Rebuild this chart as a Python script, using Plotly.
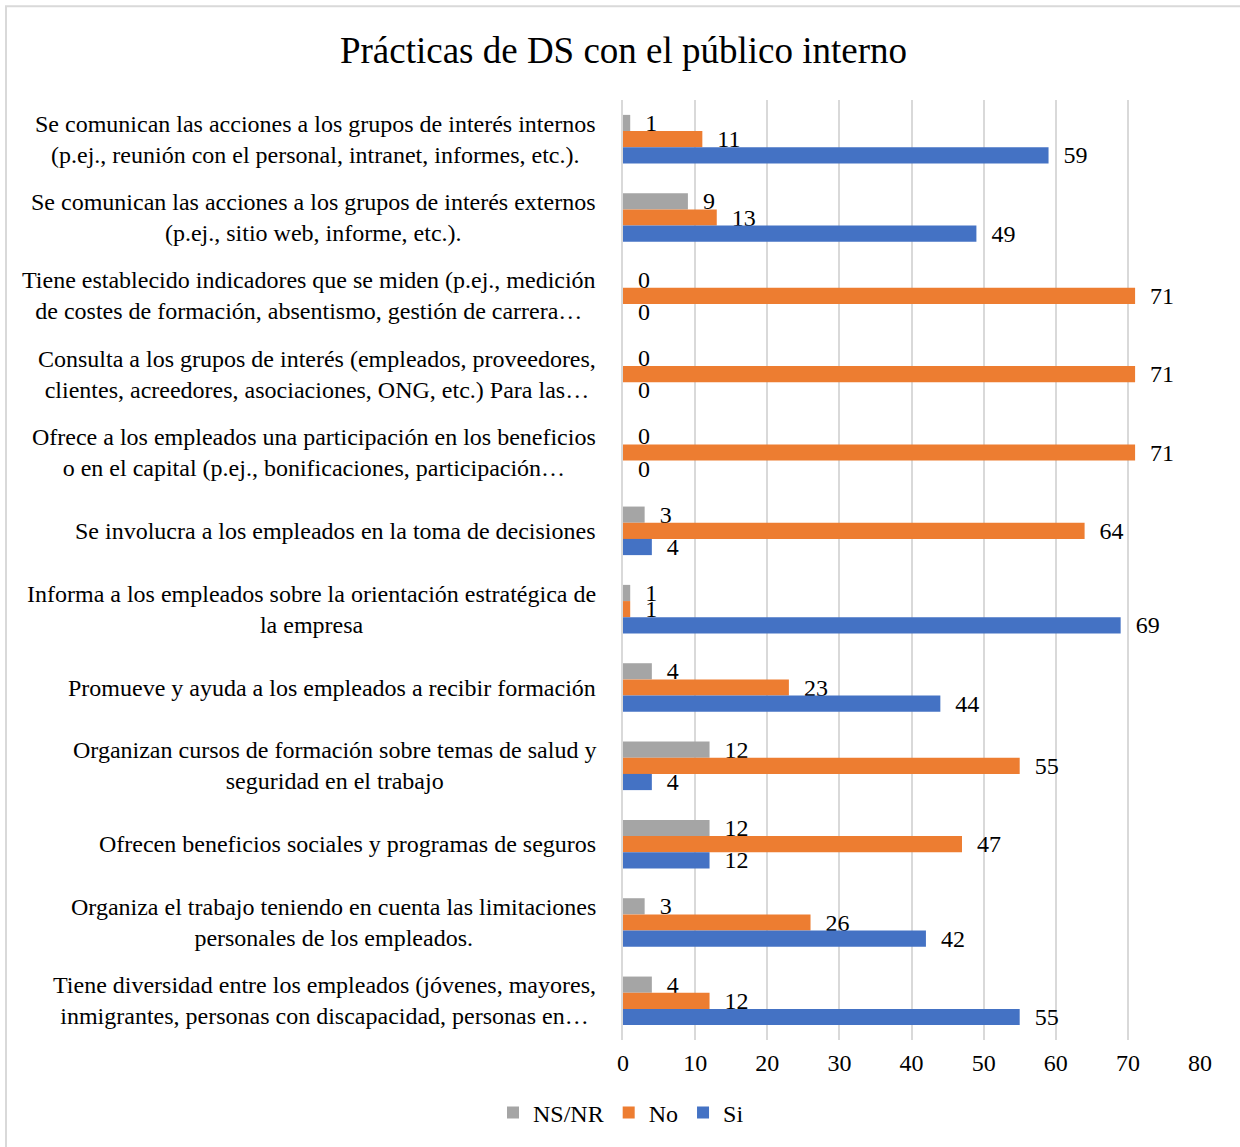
import plotly.graph_objects as go

categories = [
    "Se comunican las acciones a los grupos de interés internos<br>(p.ej., reunión con el personal, intranet, informes, etc.).",
    "Se comunican las acciones a los grupos de interés externos<br>(p.ej., sitio web, informe, etc.).",
    "Tiene establecido indicadores que se miden (p.ej., medición<br>de costes de formación, absentismo, gestión de carrera…",
    "Consulta a los grupos de interés (empleados, proveedores,<br>clientes, acreedores, asociaciones, ONG, etc.) Para las…",
    "Ofrece a los empleados una participación en los beneficios<br>o en el capital (p.ej., bonificaciones, participación…",
    "Se involucra a los empleados en la toma de decisiones",
    "Informa a los empleados sobre la orientación estratégica de<br>la empresa",
    "Promueve y ayuda a los empleados a recibir formación",
    "Organizan cursos de formación sobre temas de salud y<br>seguridad en el trabajo",
    "Ofrecen beneficios sociales y programas de seguros",
    "Organiza el trabajo teniendo en cuenta las limitaciones<br>personales de los empleados.",
    "Tiene diversidad entre los empleados (jóvenes, mayores,<br>inmigrantes, personas con discapacidad, personas en…",
]
ns_nr = [1, 9, 0, 0, 0, 3, 1, 4, 12, 12, 3, 4]
no = [11, 13, 71, 71, 71, 64, 1, 23, 55, 47, 26, 12]
si = [59, 49, 0, 0, 0, 4, 69, 44, 4, 12, 42, 55]
x_ticks = [0, 10, 20, 30, 40, 50, 60, 70, 80]

FONT = "Liberation Serif, Times New Roman, serif"
FS = 24

fig = go.Figure()
for name, vals, color in [("NS/NR", ns_nr, "#A5A5A5"), ("No", no, "#ED7D31"), ("Si", si, "#4472C4")]:
    fig.add_trace(go.Bar(
        name=name, y=categories, x=vals, orientation="h",
        marker=dict(color=color, line=dict(width=0)),
        text=[f"\u2002{v}" for v in vals], textposition="outside",
        constraintext="none",
        textfont=dict(family=FONT, size=FS, color="#000000"),
        cliponaxis=False,
    ))

for c in categories:
    fig.add_annotation(
        x=0, xref="paper", y=c, yref="y", xanchor="right", xshift=-25,
        text=c, showarrow=False, align="center",
        font=dict(family=FONT, size=FS, color="#000000"),
    )

W, H = 1240, 1147
L, R, T, B = 623, 40, 100, 105
pw, ph = W - L - R, H - T - B

fig.add_shape(type="rect", xref="paper", yref="paper",
              x0=(6 - L) / pw, x1=(1260 - L) / pw,
              y0=(H - B - 1170) / ph, y1=(H - B - 6) / ph,
              line=dict(color="#D9D9D9", width=2), fillcolor="rgba(0,0,0,0)", layer="below")

fig.update_layout(
    width=W, height=H,
    margin=dict(l=L, r=R, t=T, b=B),
    paper_bgcolor="white", plot_bgcolor="white",
    barmode="group", bargap=0.38, bargroupgap=0,
    title=dict(text="Prácticas de DS con el público interno", x=623.5 / W, xref="container",
               xanchor="center", y=1 - 50 / H, yanchor="middle",
               font=dict(family=FONT, size=37, color="#000000")),
    font=dict(family=FONT, size=FS, color="#000000"),
    xaxis=dict(range=[0, 80], tickvals=x_ticks, showgrid=True, gridcolor="#D9D9D9", gridwidth=2,
               zeroline=False, showline=False, ticks="", ticklabelstandoff=6,
               tickfont=dict(family=FONT, size=FS, color="#000000")),
    yaxis=dict(autorange="reversed", showticklabels=False, showgrid=False, zeroline=False,
               showline=True, linecolor="#D9D9D9", linewidth=2, ticks=""),
    legend=dict(orientation="h", x=(621 - L) / pw, xanchor="center", y=-73 / ph, yanchor="middle",
                font=dict(family=FONT, size=FS, color="#000000"), itemwidth=30, traceorder="normal"),
)

fig.write_html("out.html", post_script="document.body.style.margin='0';",
               config={"displayModeBar": False})
